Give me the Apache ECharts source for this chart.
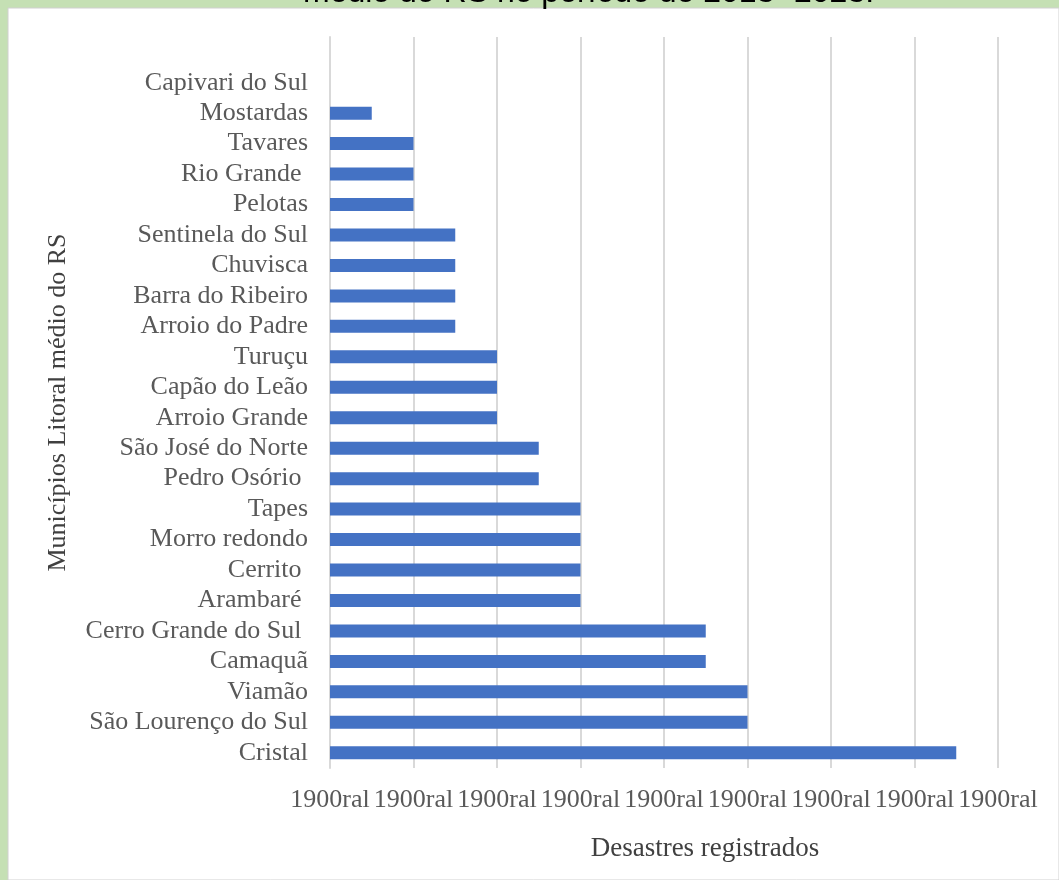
<!DOCTYPE html>
<html>
<head>
<meta charset="utf-8">
<script src="https://cdn.jsdelivr.net/npm/echarts@6/dist/echarts.min.js"></script>
<style>
html,body{margin:0;padding:0;background:#c5e0b4;}
#main{width:1059px;height:880px;}
</style>
</head>
<body>
<div id="main"></div>
<script>
// Categories listed bottom to top
const categories = ['Cristal', 'São Lourenço do Sul', 'Viamão', 'Camaquã', 'Cerro Grande do Sul ', 'Arambaré ', 'Cerrito ', 'Morro redondo', 'Tapes', 'Pedro Osório ', 'São José do Norte', 'Arroio Grande', 'Capão do Leão', 'Turuçu', 'Arroio do Padre', 'Barra do Ribeiro', 'Chuvisca', 'Sentinela do Sul', 'Pelotas', 'Rio Grande ', 'Tavares', 'Mostardas', 'Capivari do Sul', ''];
const values = [15, 10, 10, 9, 9, 6, 6, 6, 6, 5, 5, 4, 4, 4, 3, 3, 3, 3, 2, 2, 2, 1, 0, null];
const tickLabels = ['1900ral', '1900ral', '1900ral', '1900ral', '1900ral', '1900ral', '1900ral', '1900ral', '1900ral'];
const titleText = 'médio do RS no período de 2013- 2023.';
const xName = 'Desastres registrados';
const yName = 'Municípios Litoral médio do RS';

const serif = '"Liberation Serif", "Times New Roman", serif';
const chart = echarts.init(document.getElementById('main'));
chart.setOption({
  backgroundColor: '#c5e0b4',
  animation: false,
  graphic: [{
    type: 'rect', z: -10, silent: true,
    shape: {x: 8, y: 8, width: 1051, height: 872},
    style: {fill: '#ffffff', stroke: '#d0d0d0', lineWidth: 1}
  }],
  title: {
    text: titleText,
    left: 298,
    top: -28,
    textStyle: {fontFamily: '"Liberation Sans", Arial, sans-serif', fontSize: 32, fontWeight: 'normal', color: '#000'}
  },
  grid: {left: 330, right: 61, top: 37, bottom: 112, containLabel: false},
  xAxis: {
    type: 'value', min: 0, max: 16, interval: 2,
    name: xName, nameLocation: 'middle', nameGap: 67,
    nameTextStyle: {fontFamily: serif, fontSize: 27, color: '#404040', padding: [0, 0, 0, 82]},
    axisLine: {show: false}, axisTick: {show: false},
    splitLine: {show: true, lineStyle: {color: '#d9d9d9', width: 2}},
    axisLabel: {
      margin: 19, fontFamily: serif, fontSize: 26, color: '#595959', hideOverlap: false,
      formatter: (v) => tickLabels[Math.round(v / 2)]
    }
  },
  yAxis: {
    type: 'category', data: categories,
    name: yName, nameLocation: 'middle', nameGap: 259, nameRotate: 90,
    nameTextStyle: {fontFamily: serif, fontSize: 26, color: '#404040'},
    axisLine: {show: true, lineStyle: {color: '#d9d9d9', width: 2}},
    axisTick: {show: false},
    axisLabel: {interval: 0, margin: 22, fontFamily: serif, fontSize: 26, color: '#595959'}
  },
  series: [{
    type: 'bar', data: values, barWidth: 13,
    itemStyle: {color: '#4472c4'}
  }]
});
</script>
</body>
</html>
